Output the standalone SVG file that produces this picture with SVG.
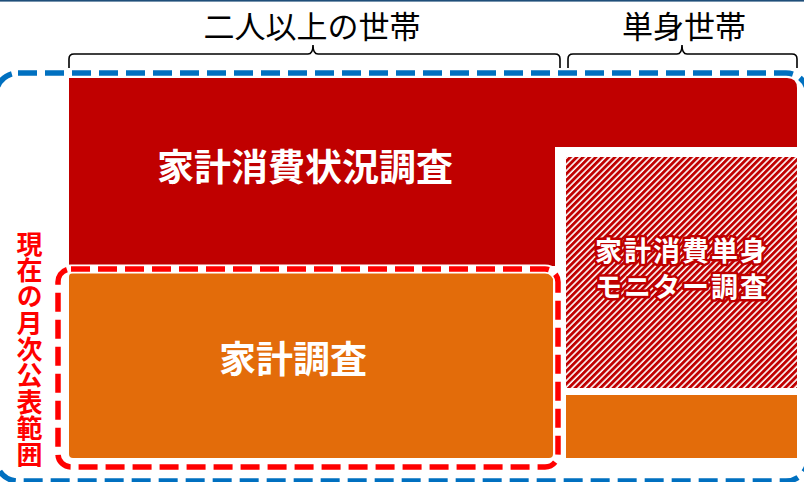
<svg xmlns="http://www.w3.org/2000/svg" width="804" height="482" viewBox="0 0 804 482">
<defs>
<pattern id="hatch" width="4.5" height="4.5" patternUnits="userSpaceOnUse" patternTransform="rotate(45)">
<rect width="4.5" height="4.5" fill="#ffffff"/>
<rect width="2.9" height="4.5" fill="#C00000"/>
</pattern>
<style>
.title{font-family:"Noto Sans CJK JP","Noto Sans",sans-serif;font-size:31px;fill:#000;text-anchor:middle}
.big{font-family:"Noto Sans CJK JP","Noto Sans",sans-serif;font-size:37px;font-weight:bold;fill:#fff;text-anchor:middle}
.mid{font-family:"Noto Sans CJK JP","Noto Sans",sans-serif;font-size:27px;font-weight:bold;fill:#fff;text-anchor:middle;stroke:#C00000;stroke-width:5;stroke-linejoin:round;paint-order:stroke;letter-spacing:2px}
.vert{font-family:"Noto Sans CJK JP","Noto Sans",sans-serif;font-size:26px;font-weight:bold;fill:#FF0000;writing-mode:vertical-rl}
.brace{fill:none;stroke:#000;stroke-width:1.6}
</style>
</defs>
<rect x="0" y="0" width="804" height="482" fill="#ffffff"/>
<rect x="0" y="0" width="804" height="1.6" fill="#1F4E79"/>

<g id="kakei-shohi-jokyo">
<path d="M69,78 H787 Q797,78 797,88 V147 H555 V266 H69 Z" fill="#C00000"/>
<text class="big" x="305" y="181">家計消費状況調査</text>
</g>

<g id="kakei-chosa">
<rect x="69" y="273" width="484" height="185" rx="4" fill="#E36C0A"/>
<text class="big" x="293" y="373">家計調査</text>
</g>

<g id="tanshin-monitor">
<rect x="566" y="157" width="231" height="231" fill="url(#hatch)"/>
<text class="mid" x="682" y="261">家計消費単身</text>
<text class="mid" x="682" y="297">モニター調査</text>
</g>

<g id="tanshin-orange">
<rect x="566" y="395" width="231" height="63" fill="#E36C0A"/>
</g>

<g id="scope-monthly">
<rect x="58" y="269" width="500" height="198" rx="13" fill="none" stroke="#ffffff" stroke-width="9"/>
<rect x="58" y="269" width="500" height="198" rx="13" fill="none" stroke="#FF0000" stroke-width="5.5" stroke-dasharray="19 8"/>
<text class="vert" x="29.5" y="231">現</text>
<text class="vert" x="29.5" y="257.3">在</text>
<text class="vert" x="29.5" y="283.6">の</text>
<text class="vert" x="29.5" y="309.9">月</text>
<text class="vert" x="29.5" y="336.2">次</text>
<text class="vert" x="29.5" y="362.5">公</text>
<text class="vert" x="29.5" y="388.8">表</text>
<text class="vert" x="29.5" y="415.1">範</text>
<text class="vert" x="29.5" y="441.4">囲</text>
</g>

<g id="scope-all">
<rect x="-4" y="73" width="812" height="408" rx="22" fill="none" stroke="#0070C0" stroke-width="5.5" stroke-dasharray="19 8"/>
</g>

<g id="header-multi">
<text class="title" x="312" y="38">二人以上の世帯</text>
</g>
<g id="header-single">
<text class="title" x="684" y="38">単身世帯</text>
</g>

<g id="connectors">
<path class="brace" d="M69,68 V59 Q69,54 74,54 H308 Q313,54 313,45 Q313,54 318,54 H555 Q560,54 560,59 V68"/>
<path class="brace" d="M568,68 V59 Q568,54 573,54 H677 Q682,54 682,45 Q682,54 687,54 H792 Q797,54 797,59 V68"/>
</g>
</svg>
